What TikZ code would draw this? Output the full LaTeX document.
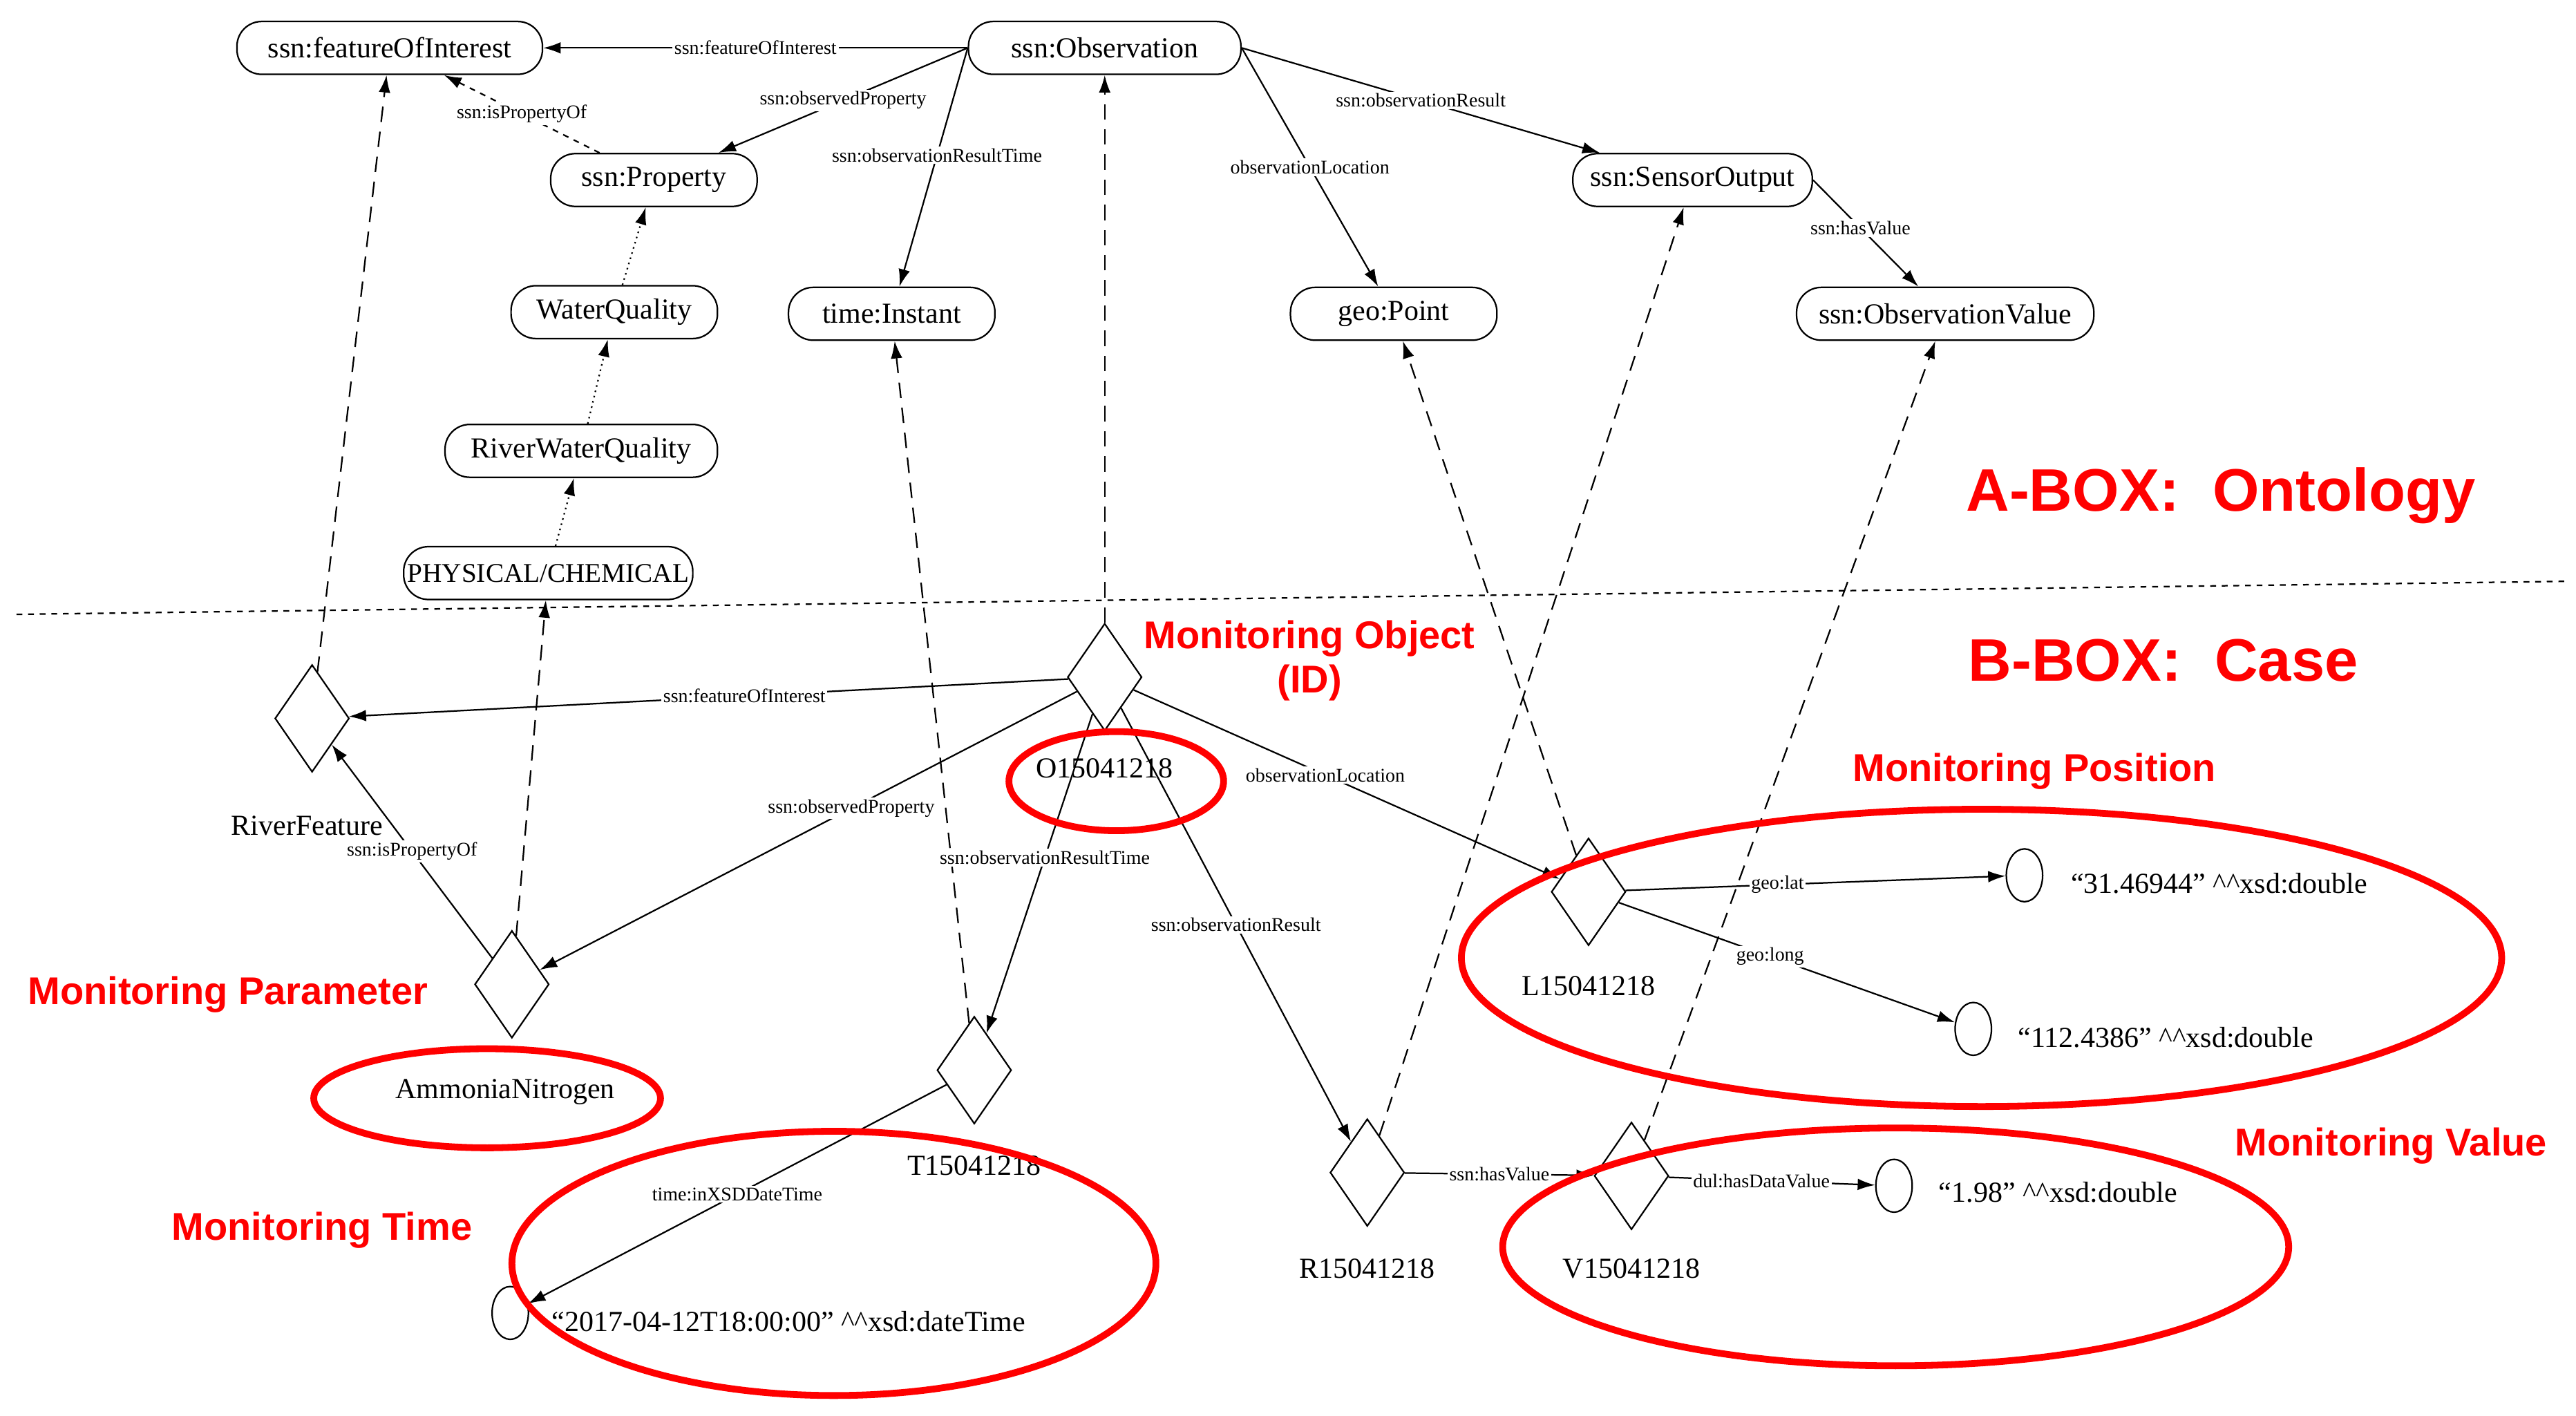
\documentclass[tikz,border=0pt]{standalone}
\usepackage{fontspec}
\setmainfont{Liberation Serif}
\newfontfamily\redf{Liberation Sans}
\usetikzlibrary{shapes.geometric,arrows.meta}
\begin{document}
\begin{tikzpicture}[x=0.03cm,y=-0.03cm,
  cls/.style={draw,rounded corners=0.45cm,minimum height=0.96cm,inner sep=2pt,font=\fontsize{15}{18}\selectfont,line width=0.8pt},
  dia/.style={draw,diamond,minimum width=1.35cm,minimum height=1.95cm,inner sep=0pt,line width=0.8pt},
  lit/.style={draw,ellipse,minimum width=0.66cm,minimum height=0.96cm,inner sep=0pt,line width=0.8pt},
  txt/.style={font=\fontsize{15}{18}\selectfont},
  lab/.style={fill=white,inner sep=1pt,font=\fontsize{10}{11}\selectfont},
  e/.style={-{Latex[length=9pt,width=6pt]},line width=0.8pt},
  da/.style={e,dashed,dash pattern=on 8pt off 5pt},
  dot/.style={e,dotted},
  redl/.style={text=red,font=\redf\bfseries\fontsize{20}{23}\selectfont,align=center},
  big/.style={text=red,font=\redf\bfseries\fontsize{31}{35}\selectfont},
  rede/.style={draw=red,line width=3.5pt}]
\useasboundingbox[fill=white] (0,0) rectangle (1560,857);
% A-box
\node[cls,minimum width=5.55cm] (foi) at (236,29) {ssn:featureOfInterest};
\node[cls,minimum width=4.95cm] (obs) at (669,29) {ssn:Observation};
\node[cls,minimum width=3.75cm] (prop) at (396,109) {ssn:Property};
\node[cls,minimum width=4.35cm] (so) at (1025,109) {ssn:SensorOutput};
\node[cls,minimum width=3.75cm] (wq) at (372,189) {WaterQuality};
\node[cls,minimum width=3.75cm] (ti) at (540,190) {time:Instant};
\node[cls,minimum width=3.75cm] (gp) at (844,190) {geo:Point};
\node[cls,minimum width=5.4cm] (ov) at (1178,190) {ssn:ObservationValue};
\node[cls,minimum width=4.95cm] (rwq) at (352,273) {RiverWaterQuality};
\node[cls,minimum width=5.05cm,font=\fontsize{14}{17}\selectfont] (pc) at (332,347) {PHYSICAL/CHEMICAL};
\draw[e] (obs) -- node[lab,pos=0.5]{ssn:featureOfInterest} (foi);
\draw[e] (obs.west) -- node[lab,pos=0.5]{ssn:observedProperty} (prop);
\draw[e] (obs.west) -- node[lab,pos=0.45]{ssn:observationResultTime} (ti);
\draw[e] (obs.east) -- node[lab,pos=0.5]{observationLocation} (gp);
\draw[e] (obs.east) -- node[lab,pos=0.5]{ssn:observationResult} (so);
\draw[e] (so.east) -- node[lab,pos=0.45]{ssn:hasValue} (ov);
\draw[e,dashed] (prop) -- node[lab,pos=0.5]{ssn:isPropertyOf} (foi);
\draw[dot] (wq) -- (prop);
\draw[dot] (rwq) -- (wq);
\draw[dot] (pc) -- (rwq);
% divider
\draw[dashed,line width=0.8pt] (10,372) -- (1555,352);
\node[big] (abox) at (1345,300) {A-BOX:\ \ Ontology};
\node[big] (bbox) at (1310,400) {B-BOX:\ \ Case};
% B-box
\node[dia] (rf) at (189,435) {};
\node[dia] (o) at (669,410) {};
\node[dia] (an) at (310,596) {};
\node[dia] (t) at (590,648) {};
\node[dia] (l) at (962,540) {};
\node[dia] (r) at (828,710) {};
\node[dia] (v) at (988,712) {};
\node[lit] (c1) at (1226,530) {};
\node[lit] (c2) at (1195,623) {};
\node[lit] (c3) at (1147,718) {};
\node[lit] (c4) at (309,795) {};
\node[txt] (rfl) at (186,500) {RiverFeature};
\node[txt] (ol) at (669,465) {O15041218};
\node[txt] (ll) at (962,597) {L15041218};
\node[txt] (anl) at (306,661) {AmmoniaNitrogen};
\node[txt] (tl) at (590,706) {T15041218};
\node[txt] (rl) at (828,768) {R15041218};
\node[txt] (vl) at (988,768) {V15041218};
\node[txt,anchor=west] (t1) at (1250,535) {“31.46944” \textasciicircum\textasciicircum xsd:double};
\node[txt,anchor=west] (t2) at (1218,628) {“112.4386” \textasciicircum\textasciicircum xsd:double};
\node[txt,anchor=west] (t3) at (1170,722) {“1.98” \textasciicircum\textasciicircum xsd:double};
\node[txt,anchor=west] (t4) at (330,800) {“2017-04-12T18:00:00” \textasciicircum\textasciicircum xsd:dateTime};
% instance links
\draw[da] (rf) -- (foi);
\draw[da] (o) -- (obs);
\draw[da] (an) -- (pc);
\draw[da] (t) -- (ti);
\draw[da] (l) -- (gp);
\draw[da] (r) -- (so);
\draw[da] (v) -- (ov);
% case relations
\draw[e] (o) -- node[lab,pos=0.45]{ssn:featureOfInterest} (rf);
\draw[e] (o) -- node[lab,pos=0.42]{ssn:observedProperty} (an);
\draw[e] (o) -- node[lab,pos=0.45]{ssn:observationResultTime} (t);
\draw[e] (o) -- node[lab,pos=0.45]{observationLocation} (l);
\draw[e] (o) -- node[lab,pos=0.5]{ssn:observationResult} (r);
\draw[e] (an) -- node[lab,pos=0.5]{ssn:isPropertyOf} (rf);
\draw[e] (t) -- node[lab,pos=0.5]{time:inXSDDateTime} (c4);
\draw[e] (l) -- node[lab,pos=0.4]{geo:lat} (c1);
\draw[e] (l) -- node[lab,pos=0.45]{geo:long} (c2);
\draw[e] (r) -- node[lab,pos=0.5]{ssn:hasValue} (v);
\draw[e] (v) -- node[lab,pos=0.45]{dul:hasDataValue} (c3);
% red highlights
\draw[rede] (676,473) ellipse [x radius=65, y radius=30];
\draw[rede] (1200,580) ellipse [x radius=315, y radius=90];
\draw[rede] (295,665) ellipse [x radius=105, y radius=30];
\draw[rede] (505,765) ellipse [x radius=195, y radius=80];
\draw[rede] (1148,755) ellipse [x radius=238, y radius=72];
\node[redl] (mo) at (793,400) {Monitoring Object\\(ID)};
\node[redl] (mpos) at (1232,467) {Monitoring Position};
\node[redl] (mpar) at (138,602) {Monitoring Parameter};
\node[redl] (mt) at (195,745) {Monitoring Time};
\node[redl] (mv) at (1448,694) {Monitoring Value};
\end{tikzpicture}
\end{document}
